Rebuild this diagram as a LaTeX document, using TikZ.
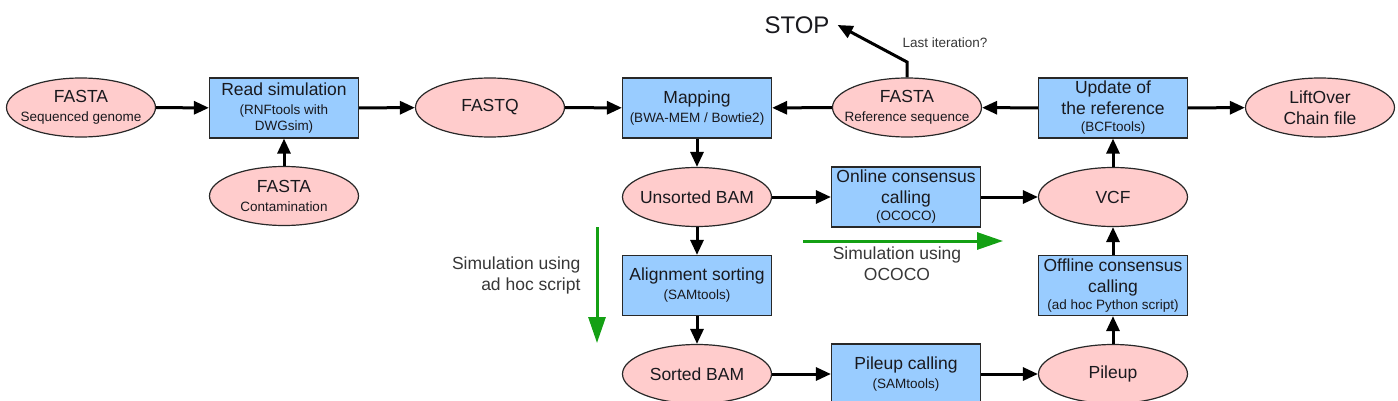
\documentclass[tikz,border=0pt]{standalone}
\usepackage{fontspec}
\setmainfont{Liberation Sans}
\usetikzlibrary{shapes.geometric,arrows.meta}
\definecolor{boxfill}{RGB}{153,204,255}
\definecolor{ellfill}{RGB}{255,204,204}
\definecolor{edgec}{RGB}{40,40,40}
\definecolor{txtc}{RGB}{25,25,30}
\definecolor{notec}{RGB}{55,55,55}
\definecolor{grn}{RGB}{20,160,20}
\newcommand{\subt}[1]{{\fontsize{13.5}{15}\selectfont #1}}
\begin{document}
\begin{tikzpicture}[x=1pt,y=-1pt,
  every node/.style={text=txtc, font=\fontsize{17.5}{21}\selectfont},
  proc/.style={rectangle, draw=edgec, line width=1.2pt, fill=boxfill, minimum width=149pt, minimum height=60pt, inner sep=0pt, align=center},
  data/.style={ellipse, draw=edgec, line width=1.2pt, fill=ellfill, minimum width=149pt, minimum height=59pt, inner xsep=-30pt, inner ysep=-12pt, align=center},
  flow/.style={line width=3pt, -{Triangle[length=15pt,width=13pt]}},
  sim/.style={draw=grn, line width=3pt, -{Triangle[length=26pt,width=17pt]}},
  note/.style={text=notec, align=center}]
\useasboundingbox (0,0) rectangle (1398,401);

% nodes
\node[data] (seq) at (81,107.5) {FASTA\\[-2pt]\subt{Sequenced genome}};
\node[proc] (readsim) at (284,108) {Read simulation\\[-2pt]\subt{(RNFtools with}\\[-5pt]\subt{DWGsim)}};
\node[data] (contam) at (284,196) {FASTA\\[-2pt]\subt{Contamination}};
\node[data] (fastq) at (490,107.5) {FASTQ};
\node[proc] (mapping) at (697,108) {Mapping\\[-2pt]\subt{(BWA-MEM / Bowtie2)}};
\node[data] (ref) at (907,107.5) {FASTA\\[-2pt]\subt{Reference sequence}};
\node[proc] (update) at (1113,108) {Update of\\the reference\\[-4pt]\subt{(BCFtools)}};
\node[data] (lift) at (1320,107.5) {LiftOver\\Chain file};
\node[data] (unsorted) at (697,197) {Unsorted BAM};
\node[proc] (online) at (906,197) {Online consensus\\calling\\[-4pt]\subt{(OCOCO)}};
\node[data] (vcf) at (1113,197) {VCF};
\node[proc] (align) at (697,285.5) {Alignment sorting\\[-2pt]\subt{(SAMtools)}};
\node[proc] (offline) at (1113,285.5) {Offline consensus\\calling\\[-4pt]\subt{(ad hoc Python script)}};
\node[data] (sorted) at (697,374) {Sorted BAM};
\node[proc] (pcall) at (906,374) {Pileup calling\\[-2pt]\subt{(SAMtools)}};
\node[data] (pileup) at (1113,374) {Pileup};
\node[inner xsep=8pt, font=\fontsize{24}{28}\selectfont] (stop) at (797,25) {STOP};
\node[note, font=\fontsize{13.5}{16}\selectfont] (last) at (945,43) {Last iteration?};
\node[note, align=right, anchor=east] (simadhoc) at (584,275) {Simulation using\\ad hoc script};
\node[note] (simococo) at (897,264) {Simulation using\\OCOCO};

% connectors
\draw[flow] (seq) -- (readsim);
\draw[flow] (contam) -- (readsim);
\draw[flow] (readsim) -- (fastq);
\draw[flow] (fastq) -- (mapping);
\draw[flow] (ref) -- (mapping);
\draw[flow] (update) -- (ref);
\draw[flow] (update) -- (lift);
\draw[flow] (mapping) -- (unsorted);
\draw[flow] (unsorted) -- (online);
\draw[flow] (online) -- (vcf);
\draw[flow] (unsorted) -- (align);
\draw[flow] (align) -- (sorted);
\draw[flow] (sorted) -- (pcall);
\draw[flow] (pcall) -- (pileup);
\draw[flow] (pileup) -- (offline);
\draw[flow] (offline) -- (vcf);
\draw[flow] (vcf) -- (update);
\coordinate (bend) at (907,62);
\draw[flow, line join=miter] (ref.north) -- (bend) -- (stop.east);

% simulation arrows
\coordinate (g1s) at (597,227);
\coordinate (g1e) at (597,343);
\coordinate (g2s) at (803,241);
\coordinate (g2e) at (1003,241);
\draw[sim] (g1s) -- (g1e);
\draw[sim] (g2s) -- (g2e);
\end{tikzpicture}
\end{document}
